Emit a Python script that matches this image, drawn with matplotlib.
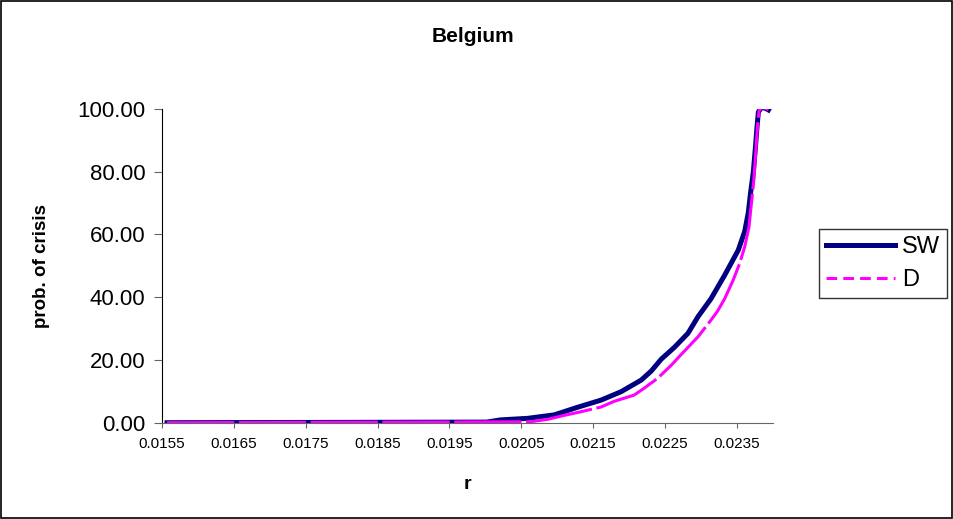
import matplotlib
matplotlib.use("Agg")
import matplotlib.pyplot as plt
from matplotlib.lines import Line2D
from matplotlib.patches import Rectangle
from matplotlib.ticker import FormatStrFormatter, MultipleLocator
import numpy as np

plt.rcParams["font.family"] = ["Liberation Sans", "DejaVu Sans"]

# values
r_sw = [0.01557, 0.02002, 0.02021, 0.02059, 0.02096, 0.02128, 0.02161, 0.02189,
        0.02217, 0.02231, 0.02245, 0.02263, 0.02282, 0.02296, 0.02314, 0.02333,
        0.02352, 0.02361, 0.02366, 0.02369, 0.02373, 0.02376, 0.02378, 0.02380,
        0.02384, 0.02390, 0.02394]
p_sw = [0.0, 0.2, 0.9, 1.4, 2.5, 4.9, 7.2, 9.9,
        13.6, 16.5, 20.3, 24.0, 28.5, 33.8, 39.5, 47.0,
        55.0, 61.0, 67.0, 73.0, 80.0, 88.0, 94.0, 99.0,
        100.5, 100.2, 99.7]

r_d = [0.01557, 0.02063, 0.02087, 0.02109, 0.02133, 0.02161, 0.02179, 0.02207,
       0.02221, 0.02240, 0.02259, 0.02272, 0.02296, 0.02314, 0.02323, 0.02333,
       0.02345, 0.02354, 0.02361, 0.02366, 0.02367, 0.02369, 0.02374, 0.02377,
       0.02379, 0.02381, 0.02385, 0.02390, 0.02394]
p_d = [0.0, 0.3, 1.1, 2.3, 3.5, 5.0, 6.8, 8.8,
       11.0, 14.2, 18.4, 21.6, 27.4, 32.7, 35.5, 39.5,
       45.5, 50.8, 56.1, 61.4, 62.5, 67.0, 78.0, 88.5,
       95.0, 99.5, 100.5, 100.2, 99.8]

x_ticks = np.arange(0.0155, 0.0236, 0.001)

fig = plt.figure(figsize=(9.54, 5.19), dpi=100)
ax = fig.add_axes([0.1698, 0.1855, 0.6402, 0.6045])

ax.plot(r_sw, p_sw, color="#000080", lw=3.6, solid_joinstyle="round")
ax.plot(r_d, p_d, color="#FF00FF", lw=2.2, dashes=(22, 1.5))

ax.set_xlim(0.0155, 0.0240)
ax.set_ylim(0, 100)
ax.set_xticks(x_ticks)
ax.yaxis.set_major_locator(MultipleLocator(20))
ax.xaxis.set_major_formatter(FormatStrFormatter("%.4f"))
ax.yaxis.set_major_formatter(FormatStrFormatter("%.2f"))

for s in ["top", "right"]:
    ax.spines[s].set_visible(False)
ax.spines["left"].set_color("black")
ax.spines["bottom"].set_color("#666666")
ax.tick_params(axis="x", direction="out", length=3.6, color="#666666",
               labelsize=11, pad=7)
ax.tick_params(axis="y", direction="out", length=5.8, color="#666666",
               labelsize=16, pad=6)

fig.text(0.496, 0.930, "Belgium", ha="center", va="center",
         fontsize=15, fontweight="bold")
fig.text(0.490, 0.066, "r", ha="center", va="center",
         fontsize=14, fontweight="bold")
fig.text(0.044, 0.488, "prob. of crisis", ha="center", va="center",
         rotation=90, fontsize=13.5, fontweight="bold")

handles = [Line2D([], [], color="#000080", lw=3.6),
           Line2D([], [], color="#FF00FF", lw=2.2, dashes=(3.5, 2))]
leg = fig.legend(handles, ["SW", "D"], loc="center left",
                 bbox_to_anchor=(0.8585, 0.492), fontsize=17,
                 frameon=True, fancybox=False, handlelength=2.9,
                 handletextpad=0.3, labelspacing=0.45, borderpad=0.3,
                 borderaxespad=0)
leg.get_frame().set_edgecolor("black")
leg.get_frame().set_linewidth(1.0)

fig.patches.append(Rectangle((0.001, 0.002), 0.997, 0.996, transform=fig.transFigure,
                             fill=False, edgecolor="black", lw=1.2))

fig.savefig("out.png", dpi=100)
